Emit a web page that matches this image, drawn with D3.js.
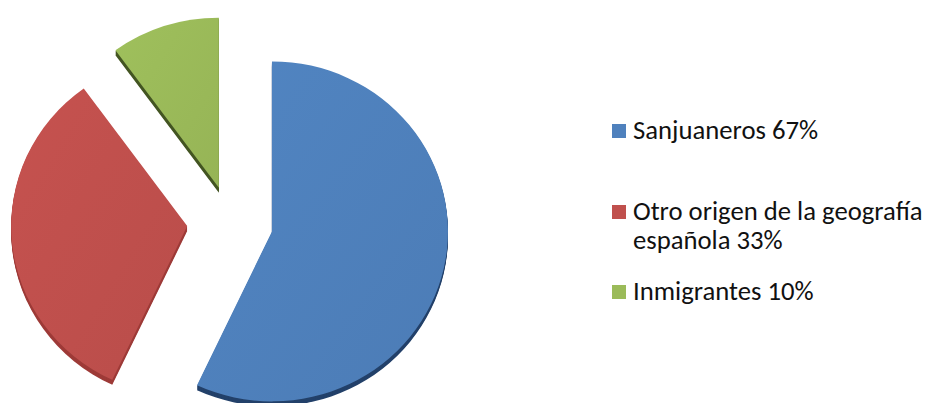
<!DOCTYPE html>
<meta charset="utf-8">
<style>
    body { margin: 0; background: #fff; }
    .legend text {
        font-family: "Carlito", "Liberation Sans", sans-serif;
        font-size: 26.7px;
        fill: #111;
    }
</style>
<body>
<script src="https://cdn.jsdelivr.net/npm/d3@7"></script>
<script>
    // data (slice sizes from the drawn angles, labels as printed)
    var categories = ["Sanjuaneros", "Otro origen", "Inmigrantes"];
    var values = [57, 33, 10];
    var legendLabels = [
        ["Sanjuaneros 67%"],
        ["Otro origen de la geografía", "española 33%"],
        ["Inmigrantes 10%"]
    ];

    var colors = ["#4f81bd", "#c0504d", "#9bbb59"],
        sideColors = ["#23416a", "#9e3b38", "#435522"],
        explode = [43, 43, 36];

    var width = 927,
        height = 403,
        cx = 230,
        cy = 222,
        rx = 176,
        ry = 170,
        depth = 5;

    var svg = d3.select("body").append("svg")
        .attr("width", width)
        .attr("height", height);

    var defs = svg.append("defs");
    colors.forEach(function (c, i) {
        var g = defs.append("linearGradient")
            .attr("id", "grad" + i)
            .attr("x1", "0%").attr("y1", "0%")
            .attr("x2", "100%").attr("y2", "100%");
        g.append("stop").attr("offset", "0%").attr("stop-color", d3.color(c).brighter(0.08));
        g.append("stop").attr("offset", "100%").attr("stop-color", d3.color(c).darker(0.1));
    });

    var pie = d3.pie().sort(null).value(function (d) { return d; });
    var arcs = pie(values);

    var arc = d3.arc().innerRadius(0).outerRadius(rx);

    var slices = svg.selectAll(".slice")
        .data(arcs)
        .enter().append("g")
        .attr("class", "slice")
        .attr("transform", function (d, i) {
            var a = (d.startAngle + d.endAngle) / 2;
            var dx = Math.sin(a) * explode[i],
                dy = -Math.cos(a) * explode[i];
            return "translate(" + (cx + dx) + "," + (cy + dy) + ") scale(1," + (ry / rx) + ")";
        });

    // side wall: the same wedge pushed down a few pixels
    for (var k = depth; k >= 1; k--) {
        slices.append("path")
            .attr("d", arc)
            .attr("transform", "translate(0," + (k * rx / ry) + ")")
            .attr("fill", function (d, i) { return sideColors[i]; });
    }

    slices.append("path")
        .attr("d", arc)
        .attr("fill", function (d, i) { return "url(#grad" + i + ")"; });

    // legend
    var legendX = 612,
        legendY = [139, 220, 300],
        lineH = 29;

    var legend = svg.append("g").attr("class", "legend");
    var item = legend.selectAll("g")
        .data(categories)
        .enter().append("g");

    item.append("rect")
        .attr("x", legendX)
        .attr("y", function (d, i) { return legendY[i] - 15; })
        .attr("width", 14)
        .attr("height", 14)
        .attr("fill", function (d, i) { return colors[i]; });

    item.each(function (d, i) {
        var t = d3.select(this).append("text")
            .attr("x", legendX + 21)
            .attr("y", legendY[i]);
        legendLabels[i].forEach(function (line, j) {
            t.append("tspan")
                .attr("x", legendX + 21)
                .attr("dy", j === 0 ? 0 : lineH)
                .text(line);
        });
    });
</script>
</body>
